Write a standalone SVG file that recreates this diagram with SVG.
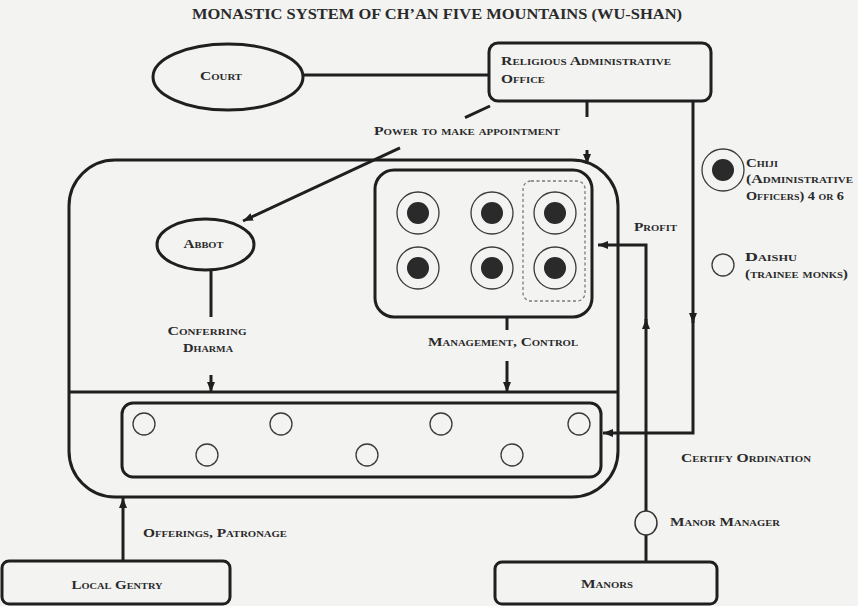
<svg xmlns="http://www.w3.org/2000/svg" width="858" height="606" viewBox="0 0 858 606">
<defs>
<style>
.t{font-family:"Liberation Serif","Times New Roman",serif;font-weight:bold;fill:#2a2a2a;font-size:13px;font-variant:small-caps}
.title{font-family:"Liberation Serif","Times New Roman",serif;font-weight:bold;fill:#2a2a2a;font-size:15px}
.ln{fill:none;stroke:#1f1f1f;stroke-width:3}
.box{fill:none;stroke:#1f1f1f;stroke-width:3}
.thin{fill:none;stroke:#3a3a3a;stroke-width:1.3}
.dot{fill:#2a2a2a}
.dash{fill:none;stroke:#7a7a7a;stroke-width:1.3;stroke-dasharray:3 2.5}
</style>
<marker id="arr" viewBox="0 0 10 10" refX="10" refY="5" markerWidth="10" markerHeight="10" markerUnits="userSpaceOnUse" orient="auto">
<path d="M0,1 L10,5 L0,9 z" fill="#1f1f1f"/>
</marker>
</defs>
<rect x="0" y="0" width="858" height="606" fill="#f3f3f2"/>
<text class="title" x="192" y="19" textLength="490" lengthAdjust="spacingAndGlyphs">MONASTIC SYSTEM OF CH’AN FIVE MOUNTAINS (WU-SHAN)</text>

<g id="connectors">
<path class="ln" d="M302,75 H489"/>
<path class="ln" d="M490,106 L465,117.6"/>
<path class="ln" d="M400,147.9 L243,221" marker-end="url(#arr)"/>
<path class="ln" d="M587,101 V117"/>
<path class="ln" d="M587,150 V164" marker-end="url(#arr)"/>
<path class="ln" d="M693,101 V323" marker-end="url(#arr)"/>
<path class="ln" d="M693,318 V433 H603" marker-end="url(#arr)"/>
<path class="ln" d="M646,562 V319" marker-end="url(#arr)"/>
<path class="ln" d="M646,324 V245 H598" marker-end="url(#arr)"/>
<path class="ln" d="M211,270 V317"/>
<path class="ln" d="M211,375 V392" marker-end="url(#arr)"/>
<path class="ln" d="M507,317 V330"/>
<path class="ln" d="M507,361 V392" marker-end="url(#arr)"/>
<path class="ln" d="M123,561 V498" marker-end="url(#arr)"/>
<text class="t" x="467" y="135" text-anchor="middle" textLength="186" lengthAdjust="spacingAndGlyphs">Power to make appointment</text>
<text class="t" x="207" y="335" text-anchor="middle" textLength="79" lengthAdjust="spacingAndGlyphs">Conferring</text>
<text class="t" x="208" y="352" text-anchor="middle" textLength="50" lengthAdjust="spacingAndGlyphs">Dharma</text>
<text class="t" x="503" y="346" text-anchor="middle" textLength="150" lengthAdjust="spacingAndGlyphs">Management, Control</text>
<text class="t" x="634" y="231" textLength="43" lengthAdjust="spacingAndGlyphs">Profit</text>
<text class="t" x="681" y="462" textLength="130" lengthAdjust="spacingAndGlyphs">Certify Ordination</text>
<text class="t" x="143" y="537" textLength="144" lengthAdjust="spacingAndGlyphs">Offerings, Patronage</text>
</g>

<g id="court">
<ellipse class="box" cx="228" cy="77" rx="75" ry="33"/>
<text class="t" x="221" y="80" text-anchor="middle" textLength="42" lengthAdjust="spacingAndGlyphs">Court</text>
</g>

<g id="religious-office">
<rect class="box" x="489" y="43" width="222" height="58" rx="9"/>
<text class="t" x="501" y="65" textLength="170" lengthAdjust="spacingAndGlyphs">Religious Administrative</text>
<text class="t" x="501" y="83" textLength="44" lengthAdjust="spacingAndGlyphs">Office</text>
</g>

<g id="monastery">
<rect class="box" x="69" y="160" width="549" height="337" rx="46"/>
<path class="ln" d="M69,392 H618"/>
</g>

<g id="abbot">
<ellipse class="box" cx="205.5" cy="244.5" rx="48.5" ry="25.5"/>
<text class="t" x="203.5" y="248" text-anchor="middle" textLength="40" lengthAdjust="spacingAndGlyphs">Abbot</text>
</g>

<g id="chiji-group">
<rect class="box" x="375" y="170" width="217" height="147" rx="19"/>
<rect class="dash" x="523" y="181" width="62" height="120" rx="8"/>
<circle class="thin" cx="418" cy="213" r="21"/><circle class="dot" cx="418" cy="213" r="11"/>
<circle class="thin" cx="492" cy="213" r="21"/><circle class="dot" cx="492" cy="213" r="11"/>
<circle class="thin" cx="555" cy="213" r="21"/><circle class="dot" cx="555" cy="213" r="11"/>
<circle class="thin" cx="418" cy="268" r="21"/><circle class="dot" cx="418" cy="268" r="11"/>
<circle class="thin" cx="492" cy="268" r="21"/><circle class="dot" cx="492" cy="268" r="11"/>
<circle class="thin" cx="555" cy="268" r="21"/><circle class="dot" cx="555" cy="268" r="11"/>
</g>

<g id="daishu-group">
<rect class="box" x="122" y="403" width="479" height="74" rx="11"/>
<circle class="thin" cx="144" cy="424" r="11"/>
<circle class="thin" cx="281" cy="424" r="11"/>
<circle class="thin" cx="441" cy="424" r="11"/>
<circle class="thin" cx="579" cy="424" r="11"/>
<circle class="thin" cx="207" cy="455" r="11"/>
<circle class="thin" cx="367" cy="455" r="11"/>
<circle class="thin" cx="512" cy="455" r="11"/>
</g>

<g id="manor-manager">
<ellipse cx="646" cy="523" rx="11" ry="12" fill="#f3f3f2" stroke="#333" stroke-width="1.5"/>
<text class="t" x="670" y="526" textLength="110" lengthAdjust="spacingAndGlyphs">Manor Manager</text>
</g>

<g id="local-gentry">
<rect class="box" x="2" y="561" width="228" height="43" rx="7"/>
<text class="t" x="117" y="589" text-anchor="middle" textLength="91" lengthAdjust="spacingAndGlyphs">Local Gentry</text>
</g>

<g id="manors">
<rect class="box" x="495" y="562" width="222" height="42" rx="7"/>
<text class="t" x="607" y="588" text-anchor="middle" textLength="52" lengthAdjust="spacingAndGlyphs">Manors</text>
</g>

<g id="legend">
<circle class="thin" cx="723" cy="170" r="21" stroke-width="1.5"/>
<circle class="dot" cx="723" cy="170" r="11"/>
<text class="t" x="746" y="167" textLength="32" lengthAdjust="spacingAndGlyphs">Chiji</text>
<text class="t" x="746" y="183" textLength="107" lengthAdjust="spacingAndGlyphs">(Administrative</text>
<text class="t" x="746" y="200" textLength="98" lengthAdjust="spacingAndGlyphs">Officers) 4 or 6</text>
<circle class="thin" cx="723" cy="265" r="11" stroke-width="1.5"/>
<text class="t" x="745" y="261" textLength="52" lengthAdjust="spacingAndGlyphs">Daishu</text>
<text class="t" x="745" y="278" textLength="103" lengthAdjust="spacingAndGlyphs">(trainee monks)</text>
</g>
</svg>
